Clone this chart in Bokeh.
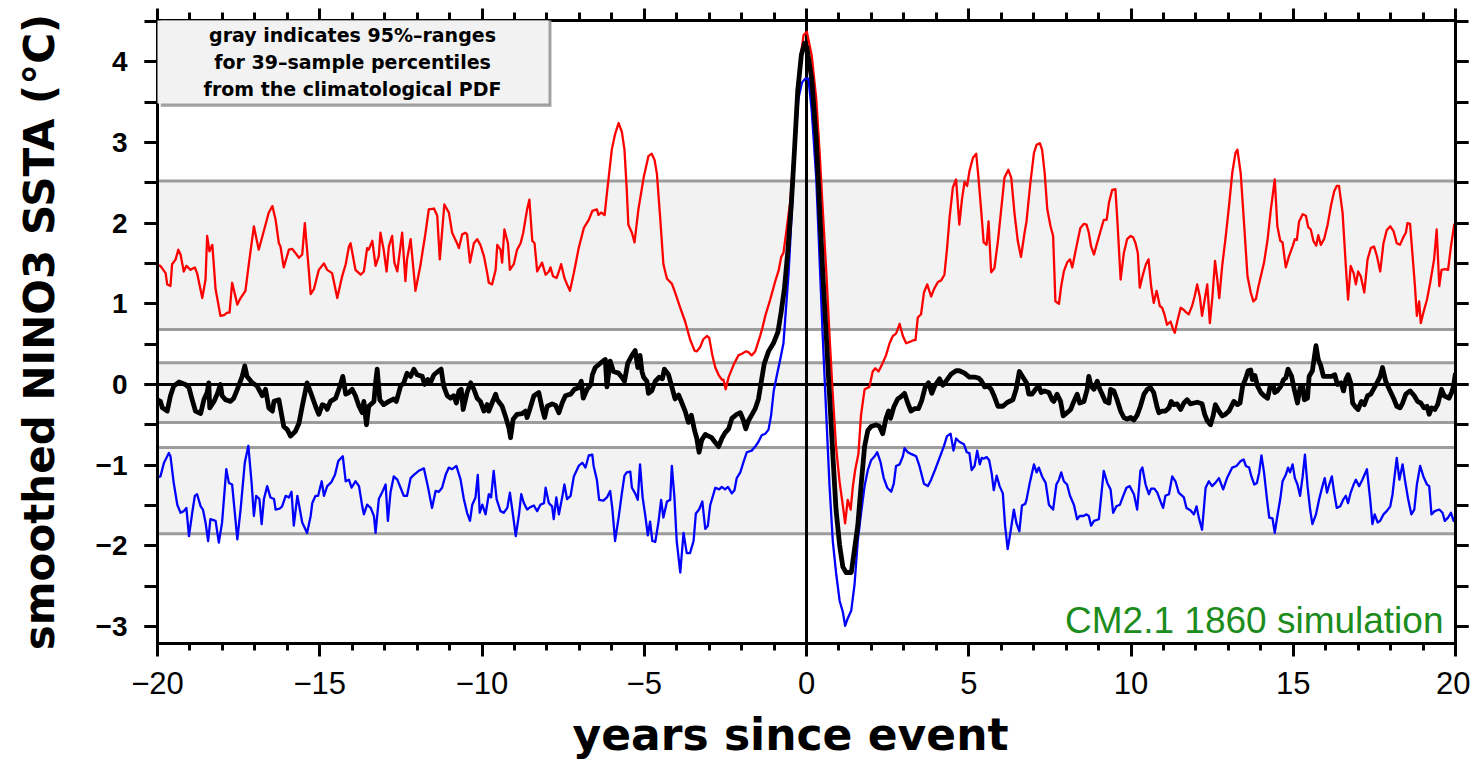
from bokeh.plotting import figure
from bokeh.models import (Range1d, LinearAxis, FixedTicker, CustomJSTickFormatter,
                          BoxAnnotation, Span, Label, Title)
from bokeh.embed import file_html
from bokeh.resources import INLINE

# ---------------- data ----------------
x_major = [-20, -15, -10, -5, 0, 5, 10, 15, 20]
x_minor = list(range(-20, 21))
y_major = [-3, -2, -1, 0, 1, 2, 3, 4]
y_minor = [-3.5, -3, -2.5, -2, -1.5, -1, -0.5, 0, 0.5, 1, 1.5, 2, 2.5, 3, 3.5, 4, 4.5]

# 95%-range bands for 39-sample percentiles (lower, upper)
band_lo = [0.68, -0.47, -1.85]
band_hi = [2.52, 0.27, -0.78]

# upper percentile (red)
t_red = [-20.0, -19.91, -19.75, -19.70, -19.60, -19.55, -19.44, -19.36, -19.29, -19.19, -19.11, -18.98, -18.85,
         -18.78, -18.62, -18.52, -18.47, -18.40, -18.31, -18.21, -18.06, -17.95, -17.85, -17.78, -17.70, -17.54,
         -17.44, -17.29, -17.18, -17.03, -16.88, -16.57, -16.46, -16.36, -16.26, -16.21, -16.11, -15.95, -15.85,
         -15.75, -15.64, -15.54, -15.46, -15.33, -15.28, -15.18, -15.03, -14.87, -14.77, -14.62, -14.46, -14.31,
         -14.20, -14.10, -14.05, -13.90, -13.74, -13.64, -13.54, -13.49, -13.38, -13.28,
         -13.18, -13.13, -13.03, -12.94, -12.87, -12.77, -12.70, -12.61, -12.46, -12.36, -12.31, -12.20, -12.05,
         -11.90, -11.74, -11.64, -11.48, -11.38, -11.30, -11.16, -11.02, -10.92, -10.77, -10.71, -10.61, -10.51,
         -10.46, -10.37, -10.25, -10.15, -10.05, -9.94, -9.84, -9.79, -9.69, -9.58, -9.53, -9.43, -9.38, -9.31,
         -9.20, -9.14, -9.02, -8.92, -8.81, -8.73, -8.61, -8.54, -8.45, -8.38, -8.30, -8.15, -8.04, -7.94, -7.89,
         -7.81, -7.70, -7.63, -7.56, -7.46, -7.38, -7.29, -7.17, -7.02, -6.86, -6.71, -6.60,
         -6.46, -6.41, -6.33, -6.22, -6.15, -6.00, -5.90, -5.79, -5.69, -5.61, -5.54, -5.49, -5.38, -5.30, -5.18,
         -5.02, -4.87, -4.77, -4.68, -4.61, -4.51, -4.41, -4.30, -4.15, -4.05, -3.89, -3.74, -3.59, -3.45, -3.38,
         -3.28, -3.18, -3.07, -3.00, -2.90, -2.81, -2.71, -2.61, -2.56, -2.49, -2.40, -2.25, -2.10, -1.99, -1.87,
         -1.79, -1.69, -1.58, -1.43, -1.36, -1.27, -1.12, -0.97, -0.86, -0.78, -0.71, -0.61, -0.50, -0.40, -0.30,
         -0.19, -0.09, 0.01,
         0.16, 0.30, 0.40, 0.50, 0.61, 0.71, 0.81, 0.91, 1.02, 1.12, 1.19, 1.27, 1.36, 1.43, 1.50, 1.60, 1.68,
         1.79, 1.94, 2.04, 2.12, 2.22, 2.32, 2.45, 2.56, 2.66, 2.76, 2.87, 2.97, 3.07, 3.20, 3.31, 3.36, 3.43,
         3.53, 3.62, 3.72, 3.84, 3.94, 4.05, 4.15, 4.25, 4.33, 4.41, 4.51, 4.61, 4.71, 4.79, 4.87, 4.95, 5.02,
         5.13, 5.23, 5.30, 5.38, 5.46, 5.55, 5.61, 5.69, 5.79, 5.90, 6.00, 6.10, 6.22, 6.31, 6.41, 6.51, 6.61,
         6.72, 6.78,
         6.90, 7.01, 7.09, 7.19, 7.26, 7.34, 7.42, 7.52, 7.60, 7.67, 7.78, 7.85, 7.93, 8.03, 8.12, 8.19, 8.26,
         8.34, 8.44, 8.55, 8.63, 8.70, 8.77, 8.86, 8.94, 9.06, 9.16, 9.25, 9.32, 9.42, 9.52, 9.59, 9.68, 9.78,
         9.88, 9.99, 10.07, 10.14, 10.21, 10.27, 10.38, 10.46, 10.54, 10.62, 10.70, 10.79, 10.89, 10.96, 11.03,
         11.11, 11.22, 11.30, 11.35, 11.42, 11.53, 11.61, 11.68, 11.78, 11.88, 11.96, 12.04, 12.12, 12.19, 12.27,
         12.35, 12.43, 12.51, 12.59, 12.66, 12.72, 12.81, 12.91, 13.02, 13.12, 13.22,
         13.28, 13.38, 13.49, 13.59, 13.69, 13.77, 13.85, 13.92, 14.00, 14.10, 14.21, 14.31, 14.43, 14.51, 14.60,
         14.67, 14.77, 14.87, 14.98, 15.05, 15.11, 15.18, 15.29, 15.39, 15.46, 15.54, 15.62, 15.71, 15.77, 15.85,
         15.95, 16.06, 16.16, 16.26, 16.34, 16.41, 16.52, 16.62, 16.69, 16.77, 16.86, 16.93, 17.00, 17.08, 17.19,
         17.29, 17.39, 17.49, 17.58, 17.68, 17.78, 17.88, 17.99, 18.09, 18.19, 18.29, 18.40, 18.47, 18.52, 18.60,
         18.67, 18.75, 18.81, 18.88, 18.93, 19.01, 19.12, 19.22, 19.34, 19.42, 19.50, 19.57, 19.67, 19.77, 19.86,
         19.96, 20.00]
v_red = [1.48, 1.47, 1.38, 1.24, 1.22, 1.49, 1.55, 1.67, 1.61, 1.40, 1.47, 1.42, 1.45,
         1.38, 1.07, 1.30, 1.84, 1.65, 1.73, 1.18, 0.85, 0.86, 0.89, 0.89, 1.26, 0.99,
         1.07, 1.16, 1.51, 1.96, 1.67, 2.13, 2.21, 2.04, 1.75, 1.71, 1.45, 1.67, 1.68,
         1.63, 1.57, 1.61, 2.00, 1.38, 1.12, 1.18, 1.42, 1.50, 1.42, 1.38, 1.07, 1.34,
         1.49, 1.71, 1.75, 1.42, 1.36, 1.40, 1.69, 1.67, 1.78, 1.47,
         1.59, 1.88, 1.67, 1.40, 1.71, 1.84, 1.51, 1.40, 1.88, 1.28, 1.55, 1.80, 1.16,
         1.47, 1.88, 2.17, 2.18, 2.09, 1.55, 2.23, 2.13, 1.88, 1.75, 1.69, 1.86, 1.88,
         1.86, 1.51, 1.75, 1.80, 1.73, 1.59, 1.38, 1.26, 1.24, 1.42, 1.73, 1.67, 1.51, 1.92,
         1.75, 1.42, 1.49, 1.67, 1.75, 1.88, 2.17, 2.29, 1.78, 1.75, 1.40, 1.51, 1.36, 1.40, 1.45,
         1.34, 1.32, 1.40, 1.49, 1.32, 1.24, 1.16, 1.38, 1.69, 1.94, 2.04, 2.15,
         2.17, 2.10, 2.13, 2.10, 2.37, 2.91, 3.10, 3.24, 3.13, 2.91, 2.42, 1.98, 1.88, 1.76, 2.17,
         2.56, 2.83, 2.86, 2.78, 2.61, 2.07, 1.49, 1.31, 1.25, 1.14, 0.95, 0.78, 0.56, 0.42, 0.41,
         0.46, 0.56, 0.60, 0.58, 0.36, 0.21, 0.12, 0.06, 0.06, -0.06, 0.09, 0.24, 0.36, 0.38, 0.41,
         0.40, 0.36, 0.41, 0.60, 0.70, 0.85, 1.05, 1.27, 1.41, 1.58, 1.63, 1.93, 2.27, 2.81, 3.40,
         4.03, 4.33, 4.37,
         4.08, 3.54, 2.91, 2.17, 1.39, 0.60, -0.13, -0.77, -1.21, -1.50, -1.72, -1.43, -1.55, -1.26, -1.06, -0.86, -0.38,
         -0.06, -0.03, 0.16, 0.20, 0.16, 0.24, 0.36, 0.51, 0.60, 0.63, 0.75, 0.60, 0.51, 0.53, 0.55, 0.55, 0.83,
         0.87, 1.14, 1.24, 1.09, 1.19, 1.27, 1.29, 1.36, 1.68, 2.07, 2.44, 2.54, 1.98, 2.29, 2.51, 2.46, 2.64,
         2.81, 2.86, 2.56, 2.17, 1.76, 1.73, 2.02, 1.39, 1.44, 1.78, 2.17, 2.56, 2.66, 2.56, 2.12, 1.78, 1.58,
         1.88, 2.02,
         2.50, 2.87, 2.97, 2.99, 2.91, 2.62, 2.17, 1.96, 1.84, 1.03, 1.00, 1.22, 1.40, 1.51, 1.55, 1.45, 1.59,
         1.75, 1.94, 1.99, 1.98, 1.88, 1.71, 1.61, 1.73, 1.90, 2.04, 2.04, 2.25, 2.41, 2.42, 1.96, 1.30, 1.63,
         1.80, 1.84, 1.82, 1.75, 1.63, 1.20, 1.38, 1.49, 1.55, 1.22, 1.01, 1.16, 0.97, 0.95, 0.87,
         0.74, 0.78, 0.68, 0.64, 0.77, 0.95, 0.93, 0.90, 0.87, 0.97, 1.09, 1.24, 1.09, 0.85, 1.05,
         1.24, 0.76, 1.09, 1.53, 1.30, 1.07, 1.47, 1.80, 2.21, 2.62, 2.87,
         2.91, 2.62, 1.96, 1.34, 1.14, 1.03, 1.06, 1.20, 1.34, 1.51, 1.80, 2.17, 2.54, 1.96, 1.78,
         1.76, 1.45, 1.59, 1.71, 1.80, 1.79, 2.02, 2.11, 2.09, 1.95, 1.92, 1.78, 1.72, 1.85, 1.73,
         1.80, 1.98, 2.21, 2.39, 2.46, 2.46, 2.13, 1.47, 1.05, 1.47, 1.38, 1.24, 1.40, 1.34, 1.14,
         1.55, 1.69, 1.71, 1.59, 1.40, 1.75, 1.91, 1.96, 1.90, 1.75, 1.73, 1.83, 1.88, 2.00, 1.99,
         1.63, 1.22, 0.85, 1.03, 0.76, 0.89, 1.05, 1.26, 1.55, 1.92, 1.22, 1.42, 1.43, 1.42, 1.71,
         1.98, 2.00]

# composite mean (black)
t_blk = [-20.0, -19.91, -19.85, -19.70, -19.60, -19.50, -19.34, -19.14, -19.03, -18.93, -18.83, -18.67, -18.57,
         -18.47, -18.42, -18.39, -18.26, -18.16, -18.06, -18.01, -17.90, -17.75, -17.65, -17.54, -17.39, -17.31,
         -17.24, -17.08, -16.93, -16.77, -16.67, -16.57, -16.46, -16.41, -16.26, -16.11, -16.00, -15.90, -15.75,
         -15.64, -15.54, -15.39, -15.28, -15.13, -15.03, -14.92, -14.82, -14.77, -14.67, -14.51, -14.36, -14.29,
         -14.20, -14.10, -14.00, -13.90, -13.79, -13.69, -13.64, -13.56, -13.49, -13.33, -13.28,
         -13.23, -13.15, -13.03, -12.87, -12.72, -12.64, -12.51, -12.41, -12.31, -12.20, -12.10, -12.00, -11.84,
         -11.77, -11.67, -11.59, -11.48, -11.33, -11.26, -11.18, -11.07, -10.97, -10.87, -10.79, -10.71, -10.64,
         -10.58, -10.46, -10.35, -10.25, -10.15, -10.05, -9.94, -9.84, -9.79, -9.69, -9.58, -9.53, -9.38, -9.28,
         -9.17, -9.12, -9.04, -8.92, -8.76, -8.66, -8.61, -8.53, -8.40, -8.25, -8.15, -8.07, -7.99, -7.84, -7.73,
         -7.63, -7.53, -7.43, -7.27, -7.15, -7.02, -6.94, -6.88, -6.76, -6.64, -6.60,
         -6.51, -6.36, -6.20, -6.15, -6.05, -5.95, -5.79, -5.69, -5.61, -5.51, -5.38, -5.28, -5.20, -5.13, -5.07,
         -5.02, -4.92, -4.87, -4.77, -4.66, -4.54, -4.44, -4.38, -4.25, -4.15, -4.05, -3.94, -3.84, -3.74, -3.64,
         -3.55, -3.45, -3.38, -3.31, -3.23, -3.12, -3.02, -2.92, -2.81, -2.71, -2.61, -2.51, -2.40, -2.30, -2.15,
         -2.04, -1.94, -1.87, -1.79, -1.69, -1.58, -1.48, -1.40, -1.30, -1.17, -1.02, -0.88, -0.78, -0.68, -0.58,
         -0.47, -0.37, -0.27, -0.16, -0.06, 0.01,
         0.16, 0.30, 0.40, 0.50, 0.61, 0.71, 0.81, 0.91, 1.02, 1.12, 1.22, 1.38, 1.48, 1.58, 1.68, 1.79, 1.89,
         1.99, 2.15, 2.25, 2.35, 2.45, 2.53, 2.59, 2.69, 2.81, 2.92, 3.02, 3.12, 3.22, 3.33, 3.45, 3.55, 3.66,
         3.76, 3.86, 3.96, 4.10, 4.20, 4.30, 4.46, 4.61, 4.71, 4.87, 5.02, 5.18, 5.30, 5.38, 5.49, 5.59, 5.69,
         5.79, 5.90, 6.05, 6.20, 6.36, 6.46, 6.56, 6.67, 6.78,
         6.85, 6.95, 7.06, 7.16, 7.23, 7.33, 7.47, 7.57, 7.62, 7.72, 7.83, 7.91, 8.03, 8.14, 8.24, 8.34, 8.42,
         8.55, 8.65, 8.70, 8.77, 8.86, 8.96, 9.04, 9.11, 9.21, 9.32, 9.37, 9.47, 9.57, 9.68, 9.78, 9.88, 9.99,
         10.09, 10.19, 10.29, 10.40, 10.50, 10.60, 10.70, 10.81, 10.86, 10.96, 11.06, 11.17, 11.24, 11.32, 11.42,
         11.53, 11.63, 11.73, 11.83, 11.94, 12.04, 12.19, 12.27, 12.35, 12.45, 12.53, 12.60, 12.71, 12.81, 12.91,
         13.02, 13.17,
         13.28, 13.36, 13.44, 13.54, 13.61, 13.69, 13.74, 13.82, 13.90, 14.00, 14.10, 14.21, 14.29, 14.39, 14.43,
         14.51, 14.62, 14.70, 14.77, 14.84, 14.95, 15.03, 15.13, 15.21, 15.29, 15.34, 15.44, 15.49, 15.59, 15.70,
         15.77, 15.85, 15.93, 16.06, 16.18, 16.28, 16.36, 16.47, 16.55, 16.62, 16.69, 16.77, 16.83, 16.90, 17.00,
         17.10, 17.19, 17.29, 17.39, 17.47, 17.58, 17.68, 17.75, 17.85, 17.96, 18.09, 18.19, 18.29, 18.37, 18.47,
         18.60, 18.73, 18.83, 18.93, 19.03, 19.12, 19.19, 19.26, 19.36, 19.45, 19.57, 19.65, 19.80, 19.88, 19.94,
         20.00]
v_blk = [-0.19, -0.21, -0.29, -0.33, -0.14, -0.02, 0.03, 0.00, -0.04, -0.19, -0.33, -0.36, -0.19,
         -0.10, 0.02, -0.29, -0.21, -0.12, 0.00, -0.14, -0.19, -0.21, -0.17, -0.06, 0.10, 0.23,
         0.10, 0.02, -0.02, -0.14, -0.06, -0.29, -0.33, -0.21, -0.19, -0.52, -0.56, -0.64, -0.58,
         -0.48, -0.27, 0.02, -0.10, -0.27, -0.37, -0.25, -0.27, -0.31, -0.21, -0.17, 0.00, 0.10,
         -0.12, -0.10, -0.06, -0.14, -0.27, -0.35, -0.21, -0.50, -0.27, -0.21, 0.02,
         0.19, -0.19, -0.25, -0.21, -0.18, -0.21, -0.02, 0.02, 0.14, 0.10, 0.19, 0.12, 0.10,
         0.00, 0.06, 0.02, 0.12, 0.17, 0.19, -0.02, -0.14, -0.17, -0.14, -0.23, -0.08, -0.06,
         -0.31, -0.10, 0.02, -0.06, -0.17, -0.21, -0.33, -0.25, -0.33, -0.23, -0.12, -0.19, -0.27, -0.39,
         -0.54, -0.66, -0.43, -0.37, -0.36, -0.33, -0.41, -0.31, -0.14, -0.10, -0.29, -0.41, -0.27, -0.24, -0.26,
         -0.35, -0.23, -0.14, -0.12, -0.06, -0.04, 0.04, -0.17, -0.06, 0.00, 0.12,
         0.21, 0.26, 0.31, -0.03, 0.29, 0.16, 0.14, 0.09, 0.04, 0.26, 0.36, 0.42, 0.21, 0.36, 0.16,
         0.09, 0.04, -0.11, -0.08, 0.04, 0.09, 0.07, 0.19, 0.12, -0.03, -0.18, -0.13, -0.23, -0.33, -0.47,
         -0.38, -0.57, -0.67, -0.84, -0.69, -0.62, -0.64, -0.66, -0.72, -0.77, -0.67, -0.60, -0.55, -0.42, -0.37,
         -0.35, -0.45, -0.55, -0.45, -0.38, -0.30, -0.18, 0.02, 0.26, 0.41, 0.51, 0.65, 0.90, 1.19, 1.63,
         2.22, 2.91, 3.64, 4.08, 4.23, 4.18,
         3.79, 3.05, 2.22, 1.39, 0.60, -0.13, -0.86, -1.55, -1.99, -2.26, -2.33, -2.33, -2.04, -1.75, -1.26, -0.77, -0.57,
         -0.52, -0.50, -0.52, -0.61, -0.42, -0.33, -0.42, -0.28, -0.18, -0.15, -0.11, -0.23, -0.33, -0.30, -0.30, -0.20, -0.03,
         0.02, -0.11, -0.01, 0.07, -0.01, 0.04, 0.13, 0.17, 0.17, 0.14, 0.09, 0.09, 0.08, 0.05, -0.03, -0.02, -0.06,
         -0.15, -0.27, -0.27, -0.22, -0.19, -0.06, 0.16, 0.09, 0.02,
         -0.12, -0.12, -0.06, -0.02, -0.10, -0.08, -0.10, -0.19, -0.21, -0.12, -0.21, -0.39, -0.35, -0.31, -0.21, -0.12, -0.23,
         -0.21, -0.06, 0.10, -0.02, -0.06, 0.04, -0.06, -0.12, -0.21, -0.23, -0.06, -0.08, -0.19, -0.33, -0.41, -0.43, -0.41,
         -0.44, -0.38, -0.27, -0.12, -0.06, -0.04, -0.10, -0.29, -0.35, -0.33, -0.33, -0.29, -0.21, -0.25, -0.24,
         -0.31, -0.23, -0.19, -0.24, -0.23, -0.22, -0.24, -0.37, -0.45, -0.50, -0.39, -0.25, -0.33, -0.39, -0.37,
         -0.33, -0.21,
         -0.25, -0.23, -0.02, 0.08, 0.17, 0.18, 0.06, 0.11, -0.02, -0.10, -0.14, -0.17, -0.02, -0.02, -0.10,
         -0.08, -0.02, 0.06, 0.08, 0.19, 0.10, -0.06, -0.23, -0.04, -0.02, -0.19, -0.17, 0.10, 0.17, 0.48,
         0.31, 0.23, 0.10, 0.10, 0.10, 0.12, 0.00, 0.02, -0.08, 0.06, 0.12, 0.02, -0.23, -0.27, -0.31,
         -0.21, -0.25, -0.14, -0.12, -0.06, 0.02, 0.10, 0.21, 0.04, -0.06, -0.17, -0.27, -0.29, -0.23, -0.12,
         -0.08, -0.14, -0.21, -0.23, -0.29, -0.27, -0.37, -0.29, -0.31, -0.25, -0.06, -0.14, -0.17, -0.10, -0.02,
         0.14]

# lower percentile (blue)
t_blu = [-20.0, -19.91, -19.80, -19.65, -19.60, -19.50, -19.39, -19.29, -19.19, -19.11, -19.03, -18.93, -18.85,
         -18.78, -18.67, -18.60, -18.52, -18.44, -18.37, -18.21, -18.11, -18.01, -17.88, -17.80, -17.70, -17.54,
         -17.44, -17.31, -17.20, -17.10, -17.03, -16.96, -16.86, -16.79, -16.72, -16.62, -16.52, -16.41, -16.36,
         -16.24, -16.16, -16.05, -15.95, -15.87, -15.80, -15.69, -15.54, -15.39, -15.28, -15.23, -15.13, -15.05,
         -14.94, -14.87, -14.77, -14.64, -14.53, -14.43, -14.29, -14.20, -14.10, -14.02, -13.90, -13.79, -13.69,
         -13.64, -13.54, -13.43, -13.33, -13.28,
         -13.18, -13.08, -12.97, -12.90, -12.82, -12.72, -12.61, -12.51, -12.41, -12.31, -12.20, -12.10, -11.95,
         -11.79, -11.67, -11.54, -11.43, -11.33, -11.23, -11.12, -11.02, -10.92, -10.79, -10.66, -10.56, -10.46,
         -10.37, -10.30, -10.20, -10.13, -10.07, -9.99, -9.89, -9.79, -9.72, -9.64, -9.55, -9.43, -9.33, -9.22,
         -9.14, -9.04, -8.96, -8.86, -8.79, -8.71, -8.61, -8.51, -8.40, -8.30, -8.20, -8.09, -8.04, -7.94, -7.84,
         -7.79, -7.71, -7.63, -7.53, -7.46, -7.38, -7.27, -7.17, -7.02, -6.91, -6.81, -6.71, -6.60,
         -6.56, -6.46, -6.39, -6.26, -6.15, -6.05, -5.98, -5.90, -5.79, -5.69, -5.61, -5.54, -5.43, -5.38, -5.28,
         -5.20, -5.13, -5.05, -4.97, -4.89, -4.82, -4.75, -4.66, -4.56, -4.48, -4.41, -4.30, -4.20, -4.15, -4.07,
         -4.00, -3.89, -3.79, -3.69, -3.59, -3.48, -3.41, -3.31, -3.21, -3.12, -3.04, -2.97, -2.81, -2.69, -2.61,
         -2.51, -2.42, -2.30, -2.22, -2.15, -2.04, -1.94, -1.84, -1.69, -1.58, -1.48, -1.38, -1.27, -1.17, -1.09,
         -1.01, -0.91, -0.81, -0.71, -0.64, -0.55, -0.45, -0.35, -0.25, -0.14, -0.04, 0.06,
         0.16, 0.30, 0.40, 0.50, 0.61, 0.71, 0.81, 0.91, 1.02, 1.12, 1.19, 1.27, 1.38, 1.48, 1.58, 1.68, 1.79,
         1.89, 1.99, 2.10, 2.18, 2.28, 2.38, 2.49, 2.61, 2.69, 2.76, 2.87, 2.97, 3.02, 3.12, 3.22, 3.38, 3.48,
         3.62, 3.74, 3.84, 3.96, 4.10, 4.23, 4.33, 4.44, 4.53, 4.61, 4.71, 4.85, 4.94, 5.02, 5.09, 5.18, 5.26,
         5.34, 5.40, 5.46, 5.55, 5.63, 5.71, 5.77, 5.86, 5.95, 6.05, 6.12, 6.20, 6.29, 6.39, 6.47, 6.56, 6.64,
         6.74, 6.78,
         6.88, 7.01, 7.09, 7.16, 7.26, 7.37, 7.47, 7.60, 7.70, 7.78, 7.85, 7.93, 8.03, 8.12, 8.24, 8.34, 8.42,
         8.53, 8.63, 8.70, 8.77, 8.86, 9.01, 9.16, 9.27, 9.37, 9.45, 9.55, 9.66, 9.76, 9.86, 9.96, 10.09, 10.19,
         10.29, 10.35, 10.45, 10.55, 10.62, 10.72, 10.81, 10.91, 10.99, 11.06, 11.17, 11.27, 11.37, 11.47, 11.63,
         11.71, 11.83, 11.94, 12.02, 12.09, 12.19, 12.30, 12.40, 12.50, 12.60, 12.71, 12.84, 12.96, 13.12, 13.25,
         13.38, 13.47, 13.54, 13.64, 13.71, 13.80, 13.88, 13.95, 14.02, 14.10, 14.19, 14.26, 14.36, 14.43, 14.51,
         14.60, 14.67, 14.77, 14.84, 14.90, 14.98, 15.05, 15.13, 15.21, 15.29, 15.36, 15.44, 15.52, 15.59, 15.70,
         15.80, 15.90, 15.97, 16.04, 16.11, 16.19, 16.26, 16.34, 16.45, 16.55, 16.62, 16.69, 16.77, 16.86, 16.93,
         17.03, 17.13, 17.27, 17.37, 17.44, 17.51, 17.60, 17.68, 17.78, 17.88, 17.99, 18.06, 18.11, 18.19, 18.27,
         18.37, 18.44, 18.54, 18.64, 18.73, 18.81, 18.91, 19.01, 19.12, 19.19, 19.26, 19.36, 19.50, 19.60, 19.67,
         19.77, 19.86, 19.94, 20.00]
v_blu = [-1.15, -1.14, -0.97, -0.85, -0.89, -1.22, -1.49, -1.59, -1.57, -1.53, -1.88, -1.59, -1.38,
         -1.36, -1.51, -1.55, -1.71, -1.94, -1.67, -1.69, -1.96, -1.71, -1.05, -1.22, -1.24, -1.92,
         -1.55, -0.97, -0.76, -1.22, -1.63, -1.38, -1.42, -1.73, -1.42, -1.26, -1.40, -1.42, -1.55,
         -1.54, -1.51, -1.38, -1.40, -1.33, -1.75, -1.38, -1.71, -1.84, -1.63, -1.47, -1.38, -1.38,
         -1.20, -1.38, -1.26, -1.21, -1.12, -0.95, -0.89, -1.20, -1.18, -1.28, -1.20, -1.26, -1.51,
         -1.61, -1.49, -1.53, -1.63, -1.84,
         -1.42, -1.34, -1.24, -1.69, -1.34, -1.14, -1.18, -1.28, -1.38, -1.38, -1.16, -1.12, -1.07,
         -1.04, -1.26, -1.53, -1.32, -1.33, -1.28, -1.12, -1.03, -1.05, -1.01, -1.18, -1.42, -1.59,
         -1.69, -1.49, -1.40, -1.12, -1.59, -1.49, -1.61, -1.36, -1.40, -1.07, -1.42, -1.57, -1.59, -1.53,
         -1.34, -1.63, -1.88, -1.61, -1.36, -1.47, -1.55, -1.52, -1.50, -1.57, -1.49, -1.47, -1.28, -1.47, -1.51,
         -1.67, -1.40, -1.61, -1.40, -1.24, -1.42, -1.38, -1.14, -1.01, -0.97, -1.03, -0.88, -0.87,
         -1.01, -1.18, -1.43, -1.44, -1.40, -1.32, -1.55, -1.94, -1.65, -1.35, -1.13, -1.09, -1.08, -1.28, -1.35,
         -1.43, -0.99, -1.40, -1.62, -1.87, -1.70, -1.94, -1.95, -1.70, -1.43, -1.65, -1.45, -1.43, -1.01, -1.40,
         -1.94, -2.33, -1.84, -2.09, -2.09, -1.94, -1.60, -1.55, -1.45, -1.79, -1.75, -1.50, -1.28, -1.30, -1.27,
         -1.30, -1.27, -1.35, -1.31, -1.16, -1.09, -0.96, -0.84, -0.82, -0.77, -0.71, -0.63, -0.61, -0.56, -0.38,
         -0.08, 0.12, 0.31, 0.51, 0.90, 1.39, 2.17, 2.96, 3.54, 3.74, 3.79, 3.79,
         3.40, 2.56, 1.58, 0.60, -0.38, -1.26, -1.94, -2.33, -2.68, -2.82, -2.99, -2.90, -2.80, -2.48, -1.94, -1.60, -1.26,
         -1.06, -0.94, -0.89, -0.84, -0.96, -1.16, -1.28, -1.33, -1.23, -1.01, -0.99, -0.89, -0.79, -0.84, -0.86, -0.89, -1.01,
         -1.23, -1.26, -1.18, -1.06, -0.91, -0.77, -0.64, -0.61, -0.82, -0.67, -0.71, -0.74, -0.84, -0.85, -1.06, -1.01, -0.82,
         -0.99, -0.91, -0.92, -0.90, -0.94, -1.11, -1.31, -1.13, -1.26, -1.35, -1.75, -2.04, -1.82, -1.55, -1.72, -1.82, -1.50,
         -1.48, -1.43,
         -1.22, -0.99, -1.09, -1.03, -1.14, -1.22, -1.49, -1.55, -1.24, -1.18, -1.09, -1.20, -1.24, -1.38, -1.49, -1.67, -1.63,
         -1.63, -1.61, -1.63, -1.75, -1.69, -1.67, -1.07, -1.22, -1.30, -1.59, -1.51, -1.49, -1.38, -1.28, -1.26, -1.36, -1.55,
         -1.07, -1.03, -1.24, -1.36, -1.29, -1.29, -1.34, -1.45, -1.53, -1.38, -1.36, -1.14, -1.20, -1.34, -1.40,
         -1.53, -1.56, -1.61, -1.51, -1.65, -1.80, -1.28, -1.20, -1.26, -1.22, -1.16, -1.30, -1.16, -1.03, -1.01,
         -0.95, -0.93, -1.01, -1.03, -1.14, -1.24, -1.22, -1.09, -0.88, -1.09, -1.42, -1.65, -1.66, -1.84, -1.63,
         -1.42, -1.20, -1.12, -1.03, -1.09, -0.99, -1.16, -1.24, -1.38, -1.14, -0.87, -1.26, -1.55, -1.73, -1.61,
         -1.42, -1.26, -1.16, -1.34, -1.24, -1.14, -1.34, -1.53, -1.51, -1.42, -1.38, -1.47, -1.34, -1.24, -1.18,
         -1.26, -1.18, -1.05, -1.42, -1.73, -1.61, -1.71, -1.69, -1.61, -1.57, -1.51, -1.36, -1.18, -0.91, -1.18,
         -0.99, -1.18, -1.42, -1.61, -1.55, -1.24, -1.01, -1.14, -1.24, -1.26, -1.61, -1.57, -1.55, -1.59, -1.69,
         -1.65, -1.59, -1.69, -1.63]

note_lines = ["gray indicates 95%\u2013ranges", "for 39\u2013sample percentiles", "from the climatological PDF"]
run_label = "CM2.1 1860 simulation"
x_title = "years since event"

# ---------------- figure ----------------
p = figure(width=1470, height=770, output_backend="svg", toolbar_location=None,
           x_range=Range1d(-20, 20), y_range=Range1d(-3.21, 4.51),
           x_axis_location=None, y_axis_location=None,
           min_border_left=157, min_border_right=15, min_border_top=20, min_border_bottom=127)
p.xgrid.visible = False
p.ygrid.visible = False
p.outline_line_color = "black"
p.outline_line_width = 3
p.background_fill_color = "white"
p.border_fill_color = "white"

fmt = CustomJSTickFormatter(code="return tick < 0 ? '\u2212' + Math.abs(tick) : String(tick);")

def style_axis(ax, mt_out, nt_out):
    ax.axis_line_color = "black"
    ax.axis_line_width = 3
    ax.major_tick_line_color = "black"
    ax.major_tick_line_width = 3
    ax.minor_tick_line_color = "black"
    ax.minor_tick_line_width = 3
    ax.major_tick_in = 0
    ax.minor_tick_in = 0
    ax.major_tick_out = mt_out
    ax.minor_tick_out = nt_out

bottom = LinearAxis(ticker=FixedTicker(ticks=x_major, minor_ticks=x_minor), formatter=fmt)
style_axis(bottom, 13, 7)
bottom.major_label_text_font = "Liberation Sans"
bottom.major_label_text_font_size = "31px"
bottom.major_label_text_color = "black"
bottom.major_label_standoff = 15
p.add_layout(bottom, "below")

# x-axis title (offset from the frame's left edge, as in the reference)
p.add_layout(Title(text=x_title, align="left", offset=415, standoff=20,
                   text_font="DejaVu Sans", text_font_style="bold", text_font_size="44px",
                   text_color="black"), "below")

top = LinearAxis(ticker=FixedTicker(ticks=x_major, minor_ticks=x_minor), formatter=fmt)
style_axis(top, 12, 8)
top.major_label_text_font_size = "0px"
top.major_label_text_color = None
top.major_label_standoff = 0
p.add_layout(top, "above")

left = LinearAxis(ticker=FixedTicker(ticks=y_major, minor_ticks=y_minor), formatter=fmt,
                  axis_label="smoothed NINO3 SSTA (\u00b0C)")
style_axis(left, 13, 13)
left.major_label_text_font = "Liberation Sans"
left.major_label_text_font_style = "bold"
left.major_label_text_font_size = "28px"
left.major_label_text_color = "black"
left.major_label_standoff = 17
left.axis_label_text_font = "DejaVu Sans"
left.axis_label_text_font_style = "bold"
left.axis_label_text_font_size = "42px"
left.axis_label_text_color = "black"
left.axis_label_standoff = 29
p.add_layout(left, "left")

right = LinearAxis(ticker=FixedTicker(ticks=y_major, minor_ticks=y_minor), formatter=fmt)
style_axis(right, 13, 13)
right.major_label_text_font_size = "0px"
right.major_label_text_color = None
right.major_label_standoff = 0
p.add_layout(right, "right")

# gray bands
for lo, hi in zip(band_lo, band_hi):
    p.add_layout(BoxAnnotation(bottom=lo, top=hi, fill_color="#f2f2f2", fill_alpha=1.0,
                               line_color=None, level="underlay"))
for v in band_lo + band_hi:
    p.add_layout(Span(location=v, dimension="width", line_color="#9c9c9c", line_width=3, level="underlay"))

# zero lines
p.add_layout(Span(location=0, dimension="width", line_color="black", line_width=3, level="underlay"))
p.add_layout(Span(location=0, dimension="height", line_color="black", line_width=3, level="underlay"))

# series
p.line(t_red, v_red, line_color="#ff0000", line_width=2.3, line_join="round")
p.line(t_blu, v_blu, line_color="#0000ff", line_width=2.3, line_join="round")
p.line(t_blk, v_blk, line_color="black", line_width=4.8, line_join="round")

# note box with shadow
p.add_layout(BoxAnnotation(left=-19.9, right=-7.86, bottom=3.44, top=5.0, fill_color="#a0a0a0",
                           fill_alpha=1.0, line_color=None, level="annotation"))
p.add_layout(BoxAnnotation(left=-21.0, right=-7.95, bottom=3.48, top=5.0, fill_color="#f2f2f2",
                           fill_alpha=1.0, line_color=None, level="annotation"))
for yy, txt in zip([4.334, 3.999, 3.664], note_lines):
    p.add_layout(Label(x=-13.99, y=yy, text=txt, text_align="center", text_baseline="alphabetic",
                       text_font="DejaVu Sans", text_font_style="bold", text_font_size="19px",
                       text_color="black", level="overlay"))

p.add_layout(Label(x=19.63, y=-2.92, text=run_label, text_align="right", text_baseline="alphabetic",
                   text_font="Liberation Sans", text_font_size="37px", text_color="#1c8c1c",
                   level="overlay"))

open("out.html", "w").write(file_html(p, INLINE))
